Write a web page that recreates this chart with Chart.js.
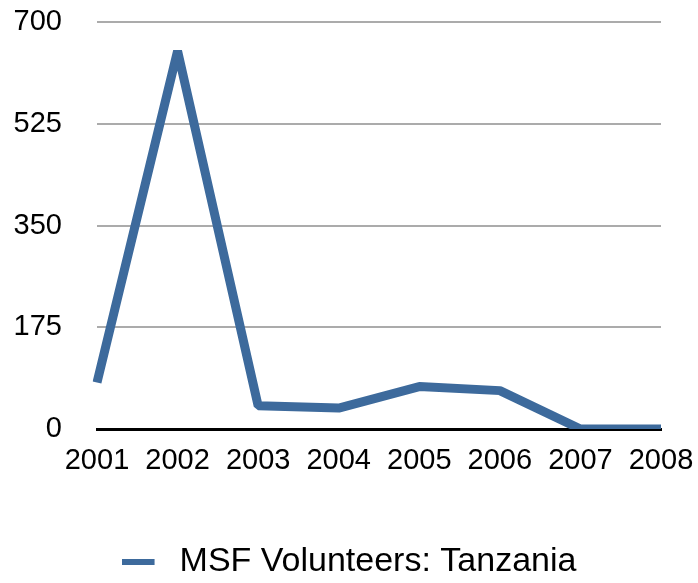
<!DOCTYPE html>
<html><head><meta charset="utf-8">
<script src="https://cdn.jsdelivr.net/npm/chart.js@4"></script>
<style>html,body{margin:0;padding:0;background:#fff}#wrap{width:698px;height:583px}</style>
</head><body><div id="wrap"><canvas id="c" width="698" height="583"></canvas></div>
<script>
const years = ['2001', '2002', '2003', '2004', '2005', '2006', '2007', '2008'];
const volunteers = [80, 650, 40, 36, 73, 66, 0, 0];
const yTicks = [0, 175, 350, 525, 700];
const seriesName = 'MSF Volunteers: Tanzania';

const lineColor = '#3d6a9c';
const fontFamily = "'Liberation Sans', Arial, Helvetica, sans-serif";

// legend swatch: a short bar with a trailing gap
const swatch = document.createElement('canvas');
swatch.width = 41; swatch.height = 6;
const sctx = swatch.getContext('2d');
sctx.fillStyle = lineColor;
sctx.fillRect(0, 0, 33, 6);

new Chart(document.getElementById('c'), {
  type: 'line',
  data: {
    labels: years,
    datasets: [{
      label: seriesName,
      data: volunteers,
      borderColor: lineColor,
      backgroundColor: lineColor,
      borderWidth: 9,
      pointRadius: 0,
      tension: 0,
      borderJoinStyle: 'bevel',
      borderCapStyle: 'butt',
      fill: false
    }]
  },
  options: {
    responsive: false,
    animation: false,
    devicePixelRatio: 1,
    layout: { padding: { top: 22, right: 0, left: 0, bottom: -6 } },
    scales: {
      x: {
        offset: false,
        grid: { display: false, drawTicks: false },
        border: { display: true, color: '#000', width: 3 },
        ticks: { font: { family: fontFamily, size: 29 }, color: '#000', padding: 15, maxRotation: 0, autoSkip: false },
        afterFit(s) { s.height = 106; s.paddingLeft = 0; s.paddingRight = 37; }
      },
      y: {
        min: 0, max: 700,
        afterBuildTicks(s) { s.ticks = yTicks.map(v => ({ value: v })); },
        grid: {
          color: (c) => (c.tick && c.tick.value === 0) ? 'rgba(0,0,0,0)' : '#ababab',
          lineWidth: 2,
          drawTicks: false
        },
        border: { display: false },
        ticks: { font: { family: fontFamily, size: 29 }, color: '#000', padding: 35 },
        afterFit(s) { s.width = 97; s.paddingTop = 0; s.paddingBottom = 0; }
      }
    },
    plugins: {
      legend: {
        position: 'bottom',
        labels: {
          usePointStyle: true,
          pointStyle: swatch,
          pointStyleWidth: 41,
          boxHeight: 6,
          font: { family: fontFamily, size: 34 },
          color: '#000',
          padding: 10
        }
      },
      tooltip: { enabled: false }
    }
  }
});
</script>
</body></html>
